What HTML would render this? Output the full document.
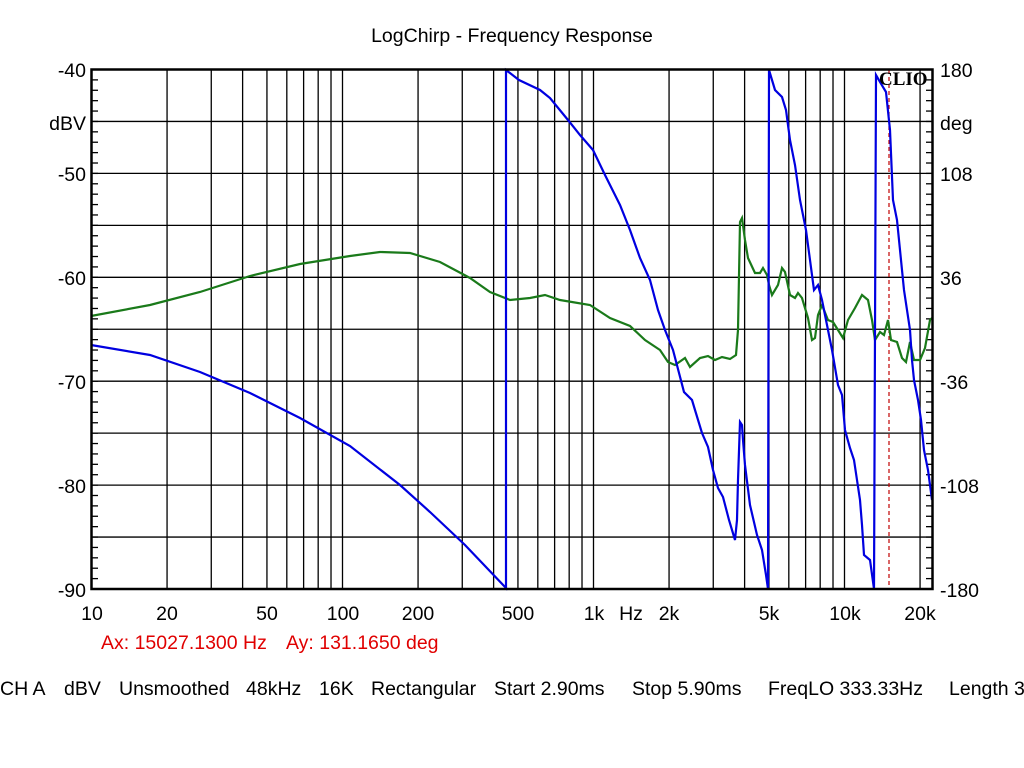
<!DOCTYPE html>
<html><head><meta charset="utf-8"><style>
html,body{margin:0;padding:0;background:#fff;width:1024px;height:768px;overflow:hidden}
svg text{font-family:"Liberation Sans",Arial,sans-serif;font-size:19.5px;fill:#000}
</style></head><body>
<svg id="s" width="1024" height="768" xmlns="http://www.w3.org/2000/svg">
<text x="512" y="42" text-anchor="middle">LogChirp - Frequency Response</text>
<g id="grid" stroke="#000" stroke-width="1.3"></g>
<line x1="889" y1="70" x2="889" y2="589" stroke="#c00000" stroke-width="1.2" stroke-dasharray="4,3"/>
<polyline fill="none" stroke="#1a7a1a" stroke-width="2.2" points="91,316 150,305 200,292 250,276 300,264 350,256 380,252 410,253 440,262 470,278 490,292 510,300 530,298 545,295 560,300 590,305 610,318 630,326 645,340 660,350 668,362 675,365 685,358 690,367 700,358 708,356 715,360 722,357 730,359 736,355 738,330 740,222 742,218 745,240 748,258 755,273 760,273 763,268 767,275 769,285 772,295 778,285 782,268 785,272 790,295 795,298 798,293 802,298 808,318 812,340 815,338 818,315 822,305 828,320 833,322 838,330 843,338 848,320 855,308 862,295 868,300 872,320 875,340 880,332 884,335 888,320 891,340 897,342 902,358 906,362 910,342 914,360 920,360 925,348 930,320 932,318"/>
<polyline fill="none" stroke="#0000e0" stroke-width="2.2" points="91,345 150,355 200,372 250,393 300,418 350,446 400,485 430,512 465,545 506,588 506,70 519,80 540,90 550,98 568,120 580,135 593,150 605,175 620,205 630,230 640,258 650,280 658,310 665,330 673,350 684,392 692,400 695,410 702,433 708,447 713,470 718,488 723,497 729,520 735,540 737,520 738,480 740,422 742,425 743,440 745,465 750,505 757,535 762,550 766,575 768,589 769,70 775,90 782,97 786,110 790,140 795,165 800,200 806,230 810,260 814,290 818,285 822,300 826,320 832,350 838,385 842,395 845,430 850,448 854,460 857,480 860,500 862,525 864,555 870,560 874,589 876,75 880,82 886,92 890,130 893,200 897,220 900,250 904,290 907,310 910,330 912,360 914,380 918,400 921,420 924,450 928,470 932,500"/>
<rect x="91.5" y="69.5" width="841" height="519.5" fill="none" stroke="#000" stroke-width="2.5"/>
<text x="879" y="85" style="font-family:'Liberation Serif',serif;font-weight:bold;font-size:19px">CLIO</text>
<g text-anchor="end">
<text x="86" y="77">-40</text><text x="86" y="130">dBV</text><text x="86" y="181">-50</text><text x="86" y="285">-60</text><text x="86" y="389">-70</text><text x="86" y="493">-80</text><text x="86" y="597">-90</text>
</g>
<g>
<text x="940" y="77">180</text><text x="940" y="130">deg</text><text x="940" y="181">108</text><text x="940" y="285">36</text><text x="940" y="389">-36</text><text x="940" y="493">-108</text><text x="940" y="597">-180</text>
</g>
<g text-anchor="middle">
<text x="92" y="620">10</text><text x="167" y="620">20</text><text x="267" y="620">50</text><text x="343" y="620">100</text><text x="418" y="620">200</text><text x="518" y="620">500</text><text x="594" y="620">1k</text><text x="631" y="620">Hz</text><text x="669" y="620">2k</text><text x="769" y="620">5k</text><text x="845" y="620">10k</text><text x="920" y="620">20k</text>
</g>
<text x="101" y="649" style="fill:#e00000">Ax: 15027.1300 Hz</text>
<text x="286" y="649" style="fill:#e00000">Ay: 131.1650 deg</text>
<g>
<text x="0" y="695">CH A</text><text x="64" y="695">dBV</text><text x="119" y="695">Unsmoothed</text><text x="246" y="695">48kHz</text><text x="319" y="695">16K</text><text x="371" y="695">Rectangular</text><text x="494" y="695">Start 2.90ms</text><text x="632" y="695">Stop 5.90ms</text><text x="768" y="695">FreqLO 333.33Hz</text><text x="949" y="695">Length 3</text>
</g>
</svg>
<script>
var g=document.getElementById('grid'),ns='http://www.w3.org/2000/svg';
function L(a,b,c,d){var l=document.createElementNS(ns,'line');l.setAttribute('x1',a);l.setAttribute('y1',b);l.setAttribute('x2',c);l.setAttribute('y2',d);g.appendChild(l);}
var x0=91.5,pd=251;
for(var dec=1;dec<=4;dec++)for(var m=1;m<=9;m++){var f=m*Math.pow(10,dec);var x=x0+pd*(Math.log10(f)-1);if(x>91.5&&x<932)L(x,70,x,589);}
for(var i=1;i<10;i++){var y=69.5+i*51.95;L(91.5,y,932.5,y);}
for(var i=0;i<50;i++){var y=69.5+i*10.39;L(91.5,y,98,y);L(926,y,932.5,y);}
</script>
</body></html>
